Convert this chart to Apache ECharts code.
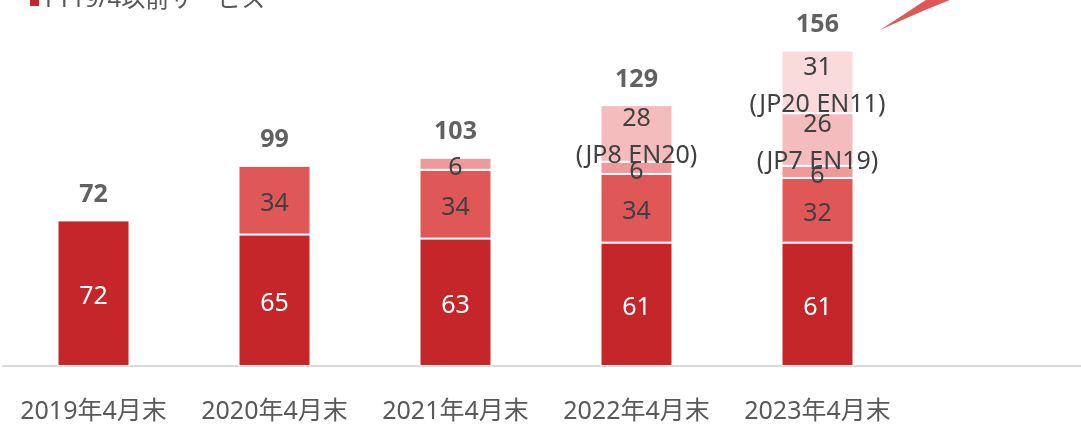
<!DOCTYPE html>
<html>
<head>
<meta charset="utf-8">
<script src="https://cdn.jsdelivr.net/npm/echarts@6/dist/echarts.min.js"></script>
<style>
  html, body { margin: 0; padding: 0; background: #fff; }
  #main { width: 1081px; height: 426px; }
</style>
</head>
<body>
<div id="main"></div>
<script>
var categories = ['2019年4月末', '2020年4月末', '2021年4月末', '2022年4月末', '2023年4月末', ''];
var base = [72, 65, 63, 61, 61, '-'];
var add20 = ['-', 34, 34, 34, 32, '-'];
var add21 = ['-', '-', 6, 6, 6, '-'];
var add22 = ['-', '-', '-', 28, 26, '-'];
var add23 = ['-', '-', '-', '-', 31, '-'];
var totals = [72, 99, 103, 129, 156, '-'];
var notes = { 3: '(JP8 EN20)', 4: '(JP7 EN19)' };
var notes23 = { 4: '(JP20 EN11)' };

var font = "'Noto Sans', 'Noto Sans CJK JP', sans-serif";
var textColor = '#404040';

function seg(name, data, color, labelColor, extra) {
    return {
        name: name,
        type: 'bar',
        stack: 'all',
        barWidth: 72,
        data: data,
        itemStyle: { color: color, borderColor: '#fff', borderWidth: 1 },
        label: {
            show: true,
            position: 'inside',
            offset: [0, 4],
            color: labelColor,
            fontFamily: font,
            fontSize: 25,
            lineHeight: 37,
            formatter: function (p) {
                if (extra && extra[p.dataIndex]) {
                    return p.value + '\n' + extra[p.dataIndex];
                }
                return p.value;
            }
        }
    };
}

var myChart = echarts.init(document.getElementById('main'));
var option = {
    animation: false,
    textStyle: { fontFamily: font },
    grid: { left: 3, right: -8, top: 0, bottom: 60, outerBoundsMode: 'none' },
    legend: {
        data: ['FY19/4以前サービス'],
        left: 23,
        top: -17,
        itemWidth: 11,
        itemHeight: 14,
        itemGap: 6,
        icon: 'rect',
        textStyle: { fontSize: 24, color: '#595959', fontFamily: font }
    },
    xAxis: {
        type: 'category',
        data: categories,
        axisLine: { lineStyle: { color: '#d9d9d9', width: 2 } },
        axisTick: { show: false },
        axisLabel: { color: '#595959', fontSize: 25, margin: 33, interval: 0, fontFamily: font }
    },
    yAxis: {
        type: 'value',
        min: 0,
        max: 181,
        show: false,
        splitLine: { show: false }
    },
    series: [
        seg('FY19/4以前サービス', base, '#c4262a', '#ffffff'),
        seg('FY20', add20, '#e05757', textColor),
        seg('FY21', add21, '#ee9a9a', textColor),
        seg('FY22', add22, '#f4bcbc', textColor, notes),
        seg('FY23', add23, '#fadbdc', textColor, notes23),
        {
            name: 'total',
            type: 'scatter',
            data: totals,
            symbolSize: 0,
            label: {
                show: true,
                position: 'top',
                distance: 13,
                color: '#3a3a3a',
                fontWeight: 'bold',
                fontSize: 25,
                fontFamily: font
            }
        }
    ],
    graphic: [
        {
            type: 'polygon',
            shape: { points: [[880, 30], [900, 17], [918, 5], [926, 0], [950, 0], [925, 10], [900, 21]] },
            style: { fill: '#e05757' }
        }
    ]
};
myChart.setOption(option);
</script>
</body>
</html>
